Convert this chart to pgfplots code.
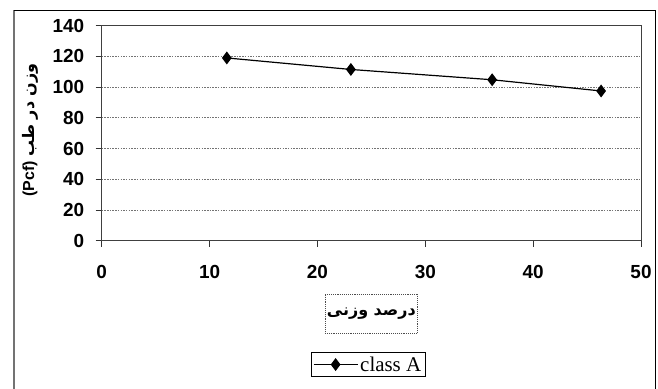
\documentclass[border=0pt]{standalone}
\usepackage{fontspec}
\setmainfont{Liberation Sans}
\newfontfamily\arabicfont[Script=Arabic]{DejaVu Sans}
\newfontfamily\seriffont{Liberation Serif}
\usepackage{pgfplots}
\pgfplotsset{compat=1.18}
\TeXXeTstate=1

\begin{document}
\begin{tikzpicture}
\useasboundingbox (0bp,0bp) rectangle (658bp,389bp);
\draw[black!55, line width=1.5bp] (14bp,0bp) -- (14bp,379bp);
\draw[black, line width=0.8bp] (14bp,379bp) -- (655bp,379bp) -- (655bp,0bp);
\begin{axis}[
  at={(101.7bp,148.3bp)}, anchor=south west,
  scale only axis, width=539.3bp, height=215bp,
  xmin=0, xmax=50, ymin=0, ymax=140,
  xtick={0,10,...,50}, ytick={0,20,...,140},
  tick pos=left, tick align=outside, major tick length=6bp,
  tick style={black!80, line width=0.8pt},
  axis line style={black!75, line width=0.8pt},
  ymajorgrids,
  grid style={black!55, line width=0.9pt, dash pattern=on 1.5bp off 1.2bp},
  /pgf/number format/assume math mode=true,
  ticklabel style={font=\fontsize{19}{19}\selectfont\bfseries},
  yticklabel style={anchor=east, xshift=-8bp},
  xticklabel style={yshift=-15bp},
  xlabel={\arabicfont\bfseries\beginR درصد وزنی\endR},
  xlabel style={at={(axis description cs:0.5,-0.3386)}, anchor=center,
    draw=black!70, densely dotted, line width=0.9pt,
    minimum width=80bp, minimum height=39bp, inner sep=2bp,
    font=\fontsize{16}{16}\selectfont},
  ylabel={\bfseries (Pcf) {\arabicfont\beginR وزن در طب\endR}},
  ylabel style={at={(axis description cs:-0.133,0.515)}, anchor=center,
    font=\fontsize{16}{16}\selectfont},
  legend style={at={(axis description cs:0.494,-0.576)}, anchor=center,
    draw=black, line width=1pt, inner xsep=2bp, inner ysep=2bp,
    font=\fontsize{21}{21}\seriffont, /tikz/every even column/.append style={column sep=2bp}},
  legend image code/.code={\draw[mark repeat=2,mark phase=2] plot coordinates {(0bp,0bp)(22bp,0bp)(44bp,0bp)};},
]
\addplot[black, line width=1.2pt, mark=diamond*, mark size=5.5bp, mark options={solid, fill=black}]
  coordinates {(11.6,119) (23.1,111.5) (36.2,104.8) (46.3,97.5)};
\addlegendentry{class A}
\end{axis}
\end{tikzpicture}
\end{document}
